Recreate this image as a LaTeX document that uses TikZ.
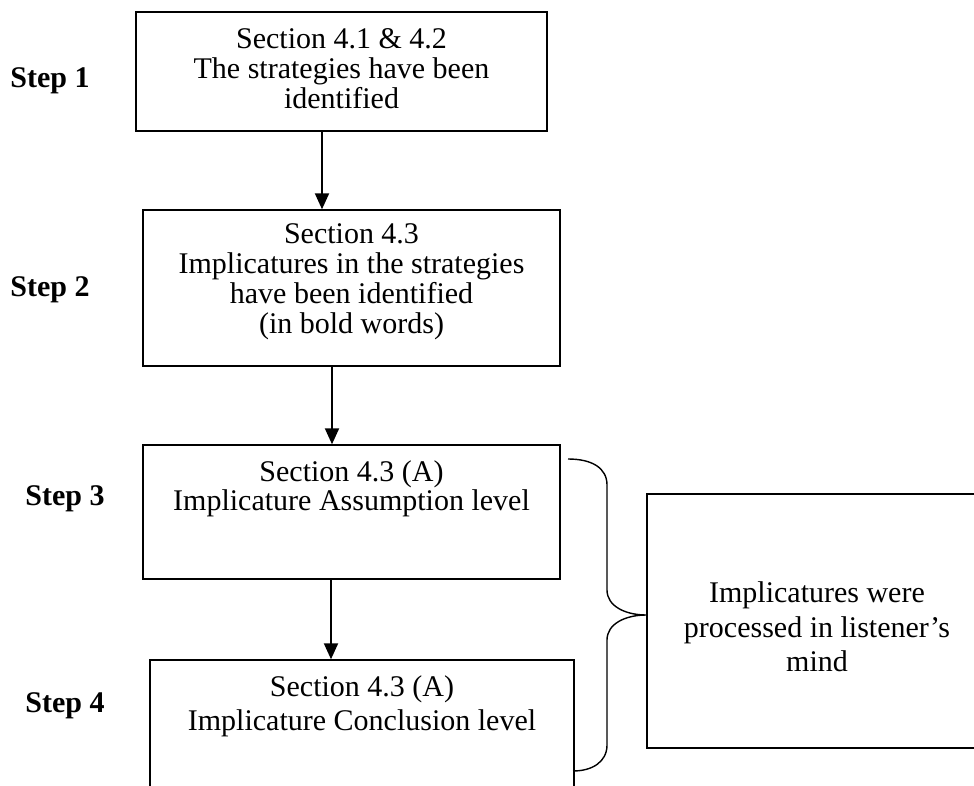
\documentclass[tikz,border=0pt]{standalone}
\usepackage{fontspec}
\setmainfont{Liberation Serif}
\usetikzlibrary{arrows.meta}
\newcommand\tightlines{\lineskiplimit=-50pt\relax}

\begin{document}
\begin{tikzpicture}[x=1pt,y=-1pt,
        box/.style={draw, line width=1.4pt, inner sep=0pt},
        txt/.style={align=center, inner sep=0pt, font={\fontsize{30}{#1}\selectfont\tightlines}},
        steplabel/.style={anchor=base, inner sep=0pt, font={\fontsize{30}{36}\selectfont\bfseries}},
        flow/.style={line width=2pt, -{Triangle[length=16pt,width=14pt]}}]
        \useasboundingbox (0,0) rectangle (974,786);
        \clip (0,0) rectangle (974,786);

        \draw (341.5,71.5) node [box, minimum width=411pt, minimum height=119pt] (b1) {};
        \draw (351.5,288) node [box, minimum width=417pt, minimum height=156pt] (b2) {};
        \draw (351.5,512) node [box, minimum width=417pt, minimum height=134pt] (b3) {};
        \draw (362,750) node [box, minimum width=424pt, minimum height=180pt] (b4) {};
        \draw (828.5,621) node [box, minimum width=363pt, minimum height=254pt] (mind) {};

        \draw (341.5,69) node [txt=30] (t1) {Section 4.1 \& 4.2\\The strategies have been\\identified};
        \draw (351.5,282) node [txt=30] (t2) {Section 4.3\\Implicatures in the strategies\\have been identified\\(in bold words)};
        \draw (351.5,489) node [txt=29] (t3) {Section 4.3 (A)\\Implicature Assumption level};
        \draw (362,706) node [txt=34] (t4) {Section 4.3 (A)\\Implicature Conclusion level};
        \draw (817,627) node [txt=34.5] (tm) {Implicatures were\\processed in listener’s\\mind};

        \draw (50,88) node [steplabel] (s1) {Step 1};
        \draw (50,296) node [steplabel] (s2) {Step 2};
        \draw (65,505) node [steplabel] (s3) {Step 3};
        \draw (65,712) node [steplabel] (s4) {Step 4};

        \coordinate (a1) at (322,0);
        \coordinate (a2) at (332,0);
        \coordinate (a3) at (331,0);
        \draw[flow] (b1.south -| a1) -- (b2.north -| a1);
        \draw[flow] (b2.south -| a2) -- (b3.north -| a2);
        \draw[flow] (b3.south -| a3) -- (b4.north -| a3);

        % brace
        \coordinate (btop) at (568,459);
        \coordinate (btip) at (mind.west |- 0,615);
        \coordinate (bbot) at (573,771);
        \draw[line width=1.4pt] (btop) .. controls (592,459) and (607,468) .. (607,485)
            -- (607,590) .. controls (607,606) and (625,615) .. (btip)
            .. controls (625,615) and (607,624) .. (607,640)
            -- (607,745) .. controls (607,762) and (592,771) .. (bbot);
    \end{tikzpicture}
\end{document}
